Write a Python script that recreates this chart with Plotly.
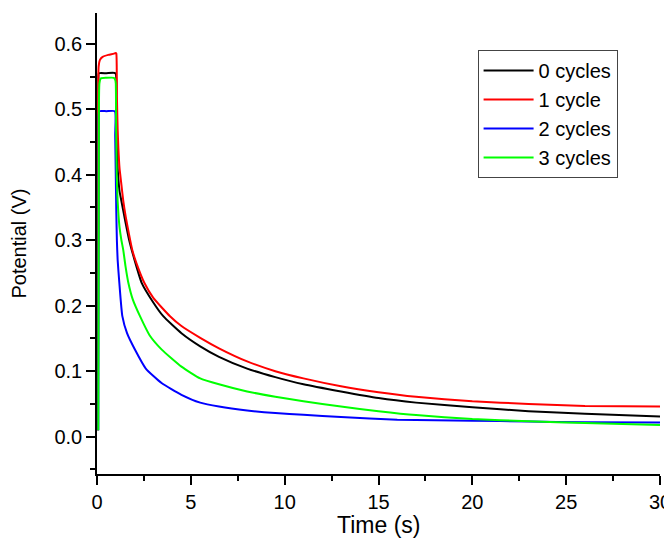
import plotly.graph_objects as go

# ---- data ----
names = ["0 cycles", "1 cycle", "2 cycles", "3 cycles"]
colors = ["#000000", "#FF0000", "#0000FF", "#00FF00"]

t_black = [0.05, 0.08, 0.1, 0.5, 0.98, 1.02, 1.06, 1.1, 1.15, 1.2, 1.3, 1.5, 1.7, 2.0, 2.38, 3.0, 3.53, 4.5,
           5.5, 6.5, 8, 9.5, 11, 13, 15, 17, 20, 23, 26, 30]
v_black = [0.01, 0.54, 0.555, 0.555, 0.555, 0.50, 0.44, 0.41, 0.39, 0.375, 0.36, 0.33, 0.302, 0.27, 0.235,
           0.205, 0.184, 0.158, 0.138, 0.122, 0.104, 0.091, 0.080, 0.069, 0.059, 0.052, 0.045, 0.039, 0.035, 0.031]

t_red = [0.05, 0.07, 0.09, 0.15, 0.3, 0.6, 0.9, 1.0, 1.03, 1.06, 1.1, 1.14, 1.2, 1.3, 1.4, 1.53, 1.7, 1.88,
         2.1, 2.52, 3.0, 3.89, 4.5, 5.5, 6.5, 8, 9.5, 11, 13, 15, 17, 20, 23, 26, 30]
v_red = [0.01, 0.55, 0.566, 0.575, 0.580, 0.583, 0.585, 0.586, 0.585, 0.52, 0.47, 0.44, 0.41, 0.385, 0.36,
         0.336, 0.31, 0.285, 0.265, 0.235, 0.212, 0.184, 0.169, 0.151, 0.135, 0.115, 0.100, 0.089, 0.077,
         0.068, 0.061, 0.054, 0.050, 0.047, 0.046]

t_blue = [0.07, 0.09, 0.12, 0.5, 0.95, 0.97, 1.0, 1.03, 1.06, 1.1, 1.19, 1.35, 1.6, 2.02, 2.6, 3.44, 4.5,
          5.5, 6.5, 8, 9.5, 11, 13, 16, 20, 23, 26, 30]
v_blue = [0.01, 0.48, 0.497, 0.497, 0.497, 0.46, 0.40, 0.34, 0.30, 0.27, 0.235, 0.184, 0.158, 0.133, 0.104,
          0.082, 0.064, 0.052, 0.046, 0.040, 0.036, 0.0335, 0.030, 0.026, 0.0245, 0.023, 0.022, 0.0215]

t_green = [0.07, 0.1, 0.13, 0.2, 0.5, 0.9, 0.97, 1.0, 1.02, 1.05, 1.1, 1.2, 1.3, 1.4, 1.52, 1.67, 1.9, 2.29,
           2.8, 3.45, 4.5, 5.5, 6.5, 8, 9.5, 11, 13, 15, 17, 20, 23, 26, 30]
v_green = [0.01, 0.50, 0.54, 0.547, 0.548, 0.548, 0.545, 0.54, 0.47, 0.40, 0.36, 0.32, 0.30, 0.285, 0.26,
           0.235, 0.21, 0.184, 0.155, 0.133, 0.107, 0.089, 0.080, 0.069, 0.061, 0.054, 0.046, 0.039, 0.033,
           0.027, 0.0235, 0.021, 0.018]

x_range = [0, 30]
y_range = [-0.057, 0.647]

series = [(t_black, v_black), (t_red, v_red), (t_blue, v_blue), (t_green, v_green)]

FONT = "Arial, 'Liberation Sans', sans-serif"

fig = go.Figure()
for (tx, vy), nm, col in zip(series, names, colors):
    fig.add_trace(go.Scatter(x=tx, y=vy, mode="lines", name=nm,
                             line=dict(color=col, width=2, shape="spline", smoothing=0.5)))

axis_common = dict(
    showgrid=False, zeroline=False, showline=True, linecolor="black", linewidth=1.5,
    ticks="outside", ticklen=9, tickwidth=1.5, tickcolor="black",
    tickfont=dict(family=FONT, size=20, color="black"),
    minor=dict(ticks="outside", ticklen=5, tickwidth=1.5, tickcolor="black"),
)

fig.update_xaxes(range=x_range, tick0=0, dtick=5, minor_dtick=2.5, **axis_common)
fig.update_yaxes(range=y_range, tick0=0, dtick=0.1, minor_dtick=0.05, tickformat=".1f",
                 title=dict(text="Potential (V)", font=dict(family=FONT, size=20, color="black"), standoff=26),
                 **axis_common)

# x-axis title placed as paper-anchored text (axis title standoff is clamped by the margin)
fig.add_annotation(text="Time (s)", xref="paper", yref="paper", x=0.5, y=-0.1106,
                   xanchor="center", yanchor="middle", showarrow=False,
                   font=dict(family=FONT, size=23, color="black"))

# the page body adds an 8px margin, so the figure is 8px smaller and margins are shifted by 8px
fig.update_layout(
    width=664, height=532,
    margin=dict(l=89, r=12, t=5, b=66, autoexpand=False),
    paper_bgcolor="white", plot_bgcolor="white",
    font=dict(family=FONT, color="black"),
    legend=dict(x=0.676, y=0.920, xanchor="left", yanchor="top",
                bgcolor="white", bordercolor="#444444", borderwidth=1,
                font=dict(family=FONT, size=20, color="black"),
                itemwidth=50, tracegroupgap=0),
    showlegend=True,
)

fig.write_html("out.html")
